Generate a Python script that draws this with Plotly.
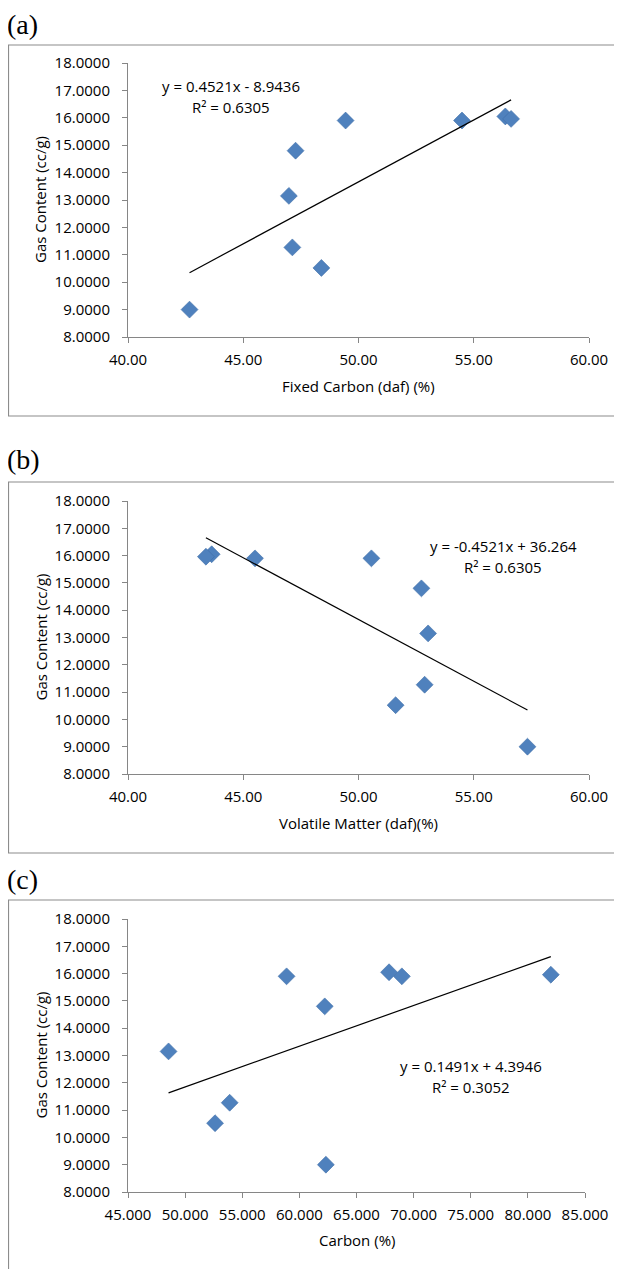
import plotly.graph_objects as go

# ---------------- data ----------------
gas_content = [9.00, 11.27, 10.52, 13.15, 14.80, 15.90, 15.90, 16.05, 15.96]
fixed_carbon = [42.67, 47.13, 48.39, 46.98, 47.27, 49.44, 54.49, 56.37, 56.62]
volatile_matter = [57.33, 52.87, 51.61, 53.02, 52.73, 50.56, 45.51, 43.63, 43.38]
carbon = [62.32, 53.90, 52.62, 48.55, 62.22, 58.88, 68.97, 67.85, 82.01]

fit_a = (0.4521, -8.9436)
fit_b = (-0.4521, 36.264)
fit_c = (0.1491, 4.3946)

eq_a = ["y = 0.4521x - 8.9436", "R² = 0.6305"]
eq_b = ["y = -0.4521x + 36.264", "R² = 0.6305"]
eq_c = ["y = 0.1491x + 4.3946", "R² = 0.3052"]

panel_labels = ["(a)", "(b)", "(c)"]
x_titles = ["Fixed Carbon (daf) (%)", "Volatile Matter (daf)(%)", "Carbon (%)"]
y_title = "Gas Content (cc/g)"
x_ranges = [[40, 60], [40, 60], [45, 85]]
x_formats = [".2f", ".2f", ".3f"]
y_range = [8, 18]

# ---------------- layout geometry (pixels, page coords) ----------------
OFF = 8  # default page body margin
W, H = 622 - OFF, 1269 - OFF
def py(p):
    return 1 - (p - OFF) / H
def px(p):
    return (p - OFF) / W

panels = [
    dict(x=fixed_carbon, fit=fit_a, eq=eq_a, ytop=63, ybot=337, xl=128, xr=589,
         box=(45, 416), lab_y=8, lab_anchor="top", eq_xy=(231, 86), xt_y=386),
    dict(x=volatile_matter, fit=fit_b, eq=eq_b, ytop=501, ybot=774, xl=128, xr=589,
         box=(482, 853), lab_y=459, lab_anchor="middle", eq_xy=(503, 546), xt_y=823),
    dict(x=carbon, fit=fit_c, eq=eq_c, ytop=919, ybot=1192, xl=128, xr=585,
         box=(900, 1290), lab_y=879, lab_anchor="middle", eq_xy=(471, 1066), xt_y=1240),
]

TICK_FONT = dict(family="Open Sans, Noto Sans, sans-serif", size=15, color="#000000")
MARKER_COLOR = "#4F81BD"
AXIS_COLOR = "#868686"

fig = go.Figure()
shapes = []
annotations = []

for i, p in enumerate(panels):
    n = "" if i == 0 else str(i + 1)
    xa = "x" + n
    ya = "y" + n
    fig.add_trace(go.Scatter(
        x=p["x"], y=gas_content, mode="markers", xaxis=xa, yaxis=ya,
        marker=dict(symbol="diamond", size=13, color=MARKER_COLOR,
                    line=dict(color="#3F6FA8", width=0.6)),
        showlegend=False,
    ))
    xmin, xmax = min(p["x"]), max(p["x"])
    m, b = p["fit"]
    fig.add_trace(go.Scatter(
        x=[xmin, xmax], y=[m * xmin + b, m * xmax + b], mode="lines",
        xaxis=xa, yaxis=ya, line=dict(color="#000000", width=1.2),
        showlegend=False,
    ))
    xr = x_ranges[i]
    fig.layout["xaxis" + n] = dict(
        domain=[px(p["xl"]), px(p["xr"])], range=xr, anchor=ya, automargin=False,
        dtick=5, tick0=xr[0], tickformat=x_formats[i], ticks="outside", ticklen=5,
        tickcolor=AXIS_COLOR, showline=True, linecolor=AXIS_COLOR, linewidth=1,
        showgrid=False, zeroline=False, tickfont=TICK_FONT, ticklabelstandoff=4,
        fixedrange=True,
    )
    fig.layout["yaxis" + n] = dict(
        domain=[py(p["ybot"]), py(p["ytop"])], range=y_range, anchor=xa, automargin=False,
        dtick=1, tickformat=".4f", ticks="outside", ticklen=5,
        tickcolor=AXIS_COLOR, showline=True, linecolor=AXIS_COLOR, linewidth=1,
        showgrid=False, zeroline=False, tickfont=TICK_FONT, ticklabelstandoff=9,
        fixedrange=True,
    )
    # panel box
    shapes.append(dict(type="rect", xref="paper", yref="paper",
                       x0=px(8.5), x1=px(640), y0=py(p["box"][1]), y1=py(p["box"][0]),
                       line=dict(color="#8C8C8C", width=1.2), fillcolor="rgba(0,0,0,0)",
                       layer="below"))
    # panel label
    annotations.append(dict(text=panel_labels[i], xref="paper", yref="paper",
                            x=px(6), y=py(p["lab_y"]), xanchor="left",
                            yanchor=p["lab_anchor"], borderpad=0,
                            showarrow=False,
                            font=dict(family="Liberation Serif, Times New Roman, serif",
                                      size=28, color="#000000")))
    # axis titles
    annotations.append(dict(text=x_titles[i], xref="paper", yref="paper",
                            x=px((p["xl"] + p["xr"]) / 2), y=py(p["xt_y"]),
                            xanchor="center", yanchor="middle", showarrow=False,
                            font=TICK_FONT))
    annotations.append(dict(text=y_title, xref="paper", yref="paper",
                            x=px(40), y=py((p["ytop"] + p["ybot"]) / 2),
                            xanchor="center", yanchor="middle", textangle=-90,
                            showarrow=False, font=TICK_FONT))
    # equation
    ex, ey = p["eq_xy"]
    annotations.append(dict(text=p["eq"][0], xref="paper", yref="paper",
                            x=px(ex), y=py(ey), xanchor="center", yanchor="middle",
                            showarrow=False, font=TICK_FONT))
    annotations.append(dict(text=p["eq"][1], xref="paper", yref="paper",
                            x=px(ex), y=py(ey + 21), xanchor="center", yanchor="middle",
                            showarrow=False, font=TICK_FONT))

fig.update_layout(
    template="none",
    width=W, height=H, margin=dict(l=0, r=0, t=0, b=0, autoexpand=False),
    paper_bgcolor="#FFFFFF", plot_bgcolor="#FFFFFF",
    shapes=shapes, annotations=annotations,
)

fig.write_html("out.html", config={"displayModeBar": False})
